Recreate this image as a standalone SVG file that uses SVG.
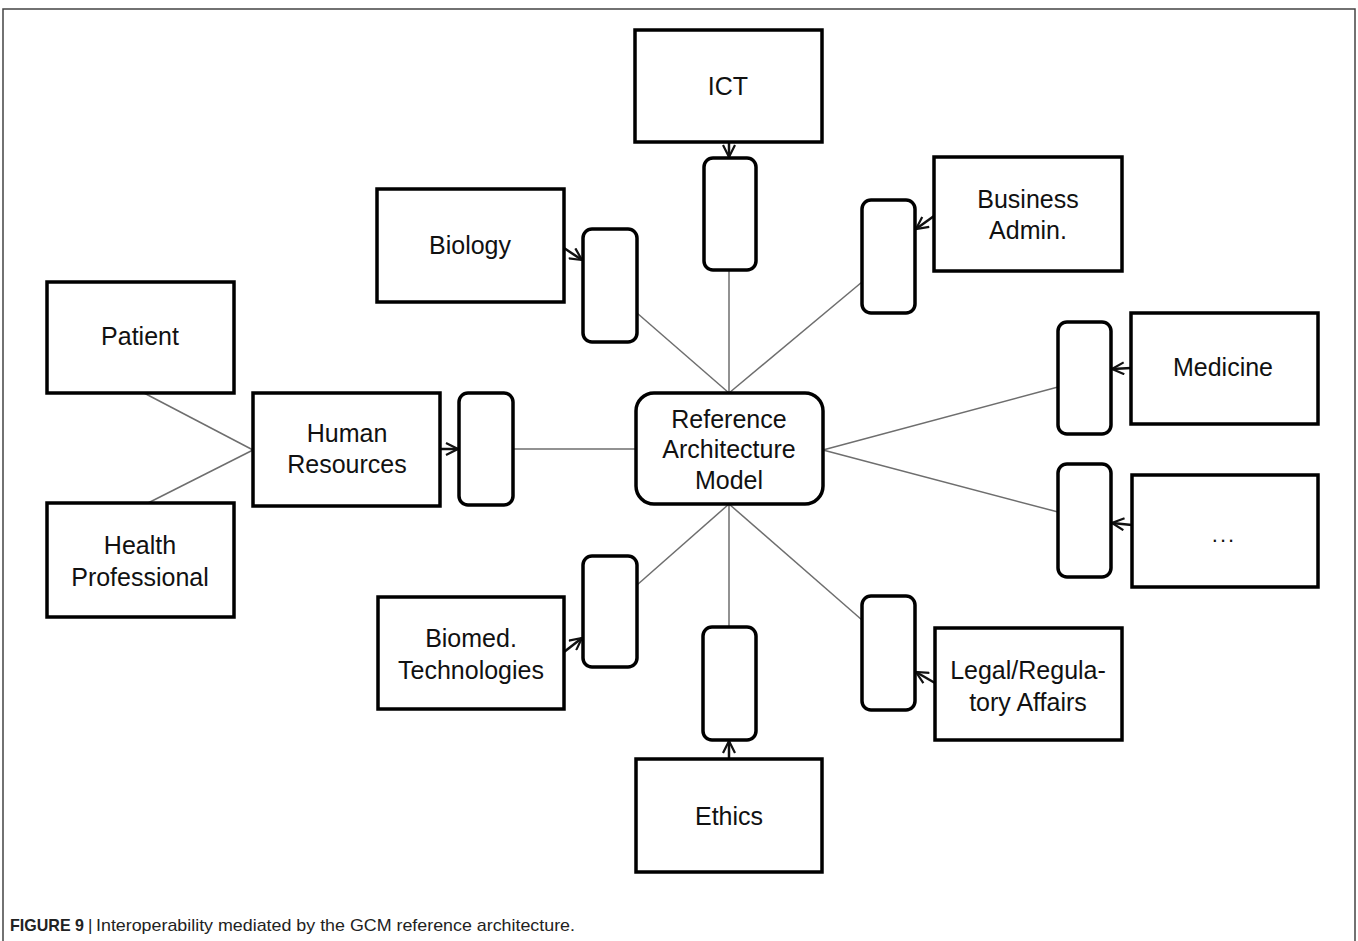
<svg xmlns="http://www.w3.org/2000/svg" width="1358" height="941" viewBox="0 0 1358 941">
<style>
.box{fill:#fff;stroke:#000;stroke-width:3.5}
.port{fill:#fff;stroke:#000;stroke-width:3.5}
.lbl{font-family:"Liberation Sans",Arial,sans-serif;font-size:25px;fill:#111;text-anchor:middle}
.link{stroke:#6e6e6e;stroke-width:1.5;fill:none}
.arr{stroke:#111;stroke-width:2.5;fill:none;marker-end:url(#ah)}
.cap{font-family:"Liberation Sans",Arial,sans-serif;font-size:17px;fill:#222}
</style>
<defs>
<marker id="ah" viewBox="0 0 14 14" refX="13" refY="7" markerWidth="14" markerHeight="14" markerUnits="userSpaceOnUse" orient="auto">
<path d="M1,1 L13,7 L1,13" fill="none" stroke="#111" stroke-width="2.2"/>
</marker>
</defs>
<rect width="1358" height="941" fill="#fff"/>
<path d="M3,941 V9 H1355 V941" fill="none" stroke="#444" stroke-width="1.5"/>

<g id="connectors">
<line class="link" x1="729" y1="271" x2="729" y2="393"/>
<line class="link" x1="637" y1="313" x2="729" y2="393"/>
<line class="link" x1="862" y1="282" x2="729" y2="393"/>
<line class="link" x1="1058" y1="387" x2="823" y2="450"/>
<line class="link" x1="1058" y1="512" x2="823" y2="450"/>
<line class="link" x1="513" y1="449" x2="635" y2="449"/>
<line class="link" x1="637" y1="585" x2="729" y2="504"/>
<line class="link" x1="729" y1="627" x2="729" y2="504"/>
<line class="link" x1="862" y1="620" x2="729" y2="504"/>
<line class="link" x1="144" y1="393" x2="253" y2="450"/>
<line class="link" x1="148" y1="503" x2="253" y2="450"/>
<line class="arr" x1="729" y1="143" x2="729" y2="157"/>
<line class="arr" x1="564" y1="248" x2="582" y2="260"/>
<line class="arr" x1="934" y1="216" x2="916" y2="229"/>
<line class="arr" x1="1131" y1="368" x2="1112" y2="369"/>
<line class="arr" x1="1132" y1="525" x2="1112" y2="523"/>
<line class="arr" x1="440" y1="449" x2="458" y2="449"/>
<line class="arr" x1="564" y1="652" x2="582" y2="638"/>
<line class="arr" x1="729" y1="758" x2="729" y2="741"/>
<line class="arr" x1="935" y1="683" x2="916" y2="672"/>
</g>

<g id="ict"><rect class="box" x="635" y="30" width="187" height="112"/><text class="lbl" x="728" y="95">ICT</text></g>
<g id="ict-port"><rect class="port" x="704" y="158" width="52" height="112" rx="9"/></g>

<g id="biology"><rect class="box" x="377" y="189" width="187" height="113"/><text class="lbl" x="470" y="254">Biology</text></g>
<g id="biology-port"><rect class="port" x="583" y="229" width="54" height="113" rx="9"/></g>

<g id="business"><rect class="box" x="934" y="157" width="188" height="114"/><text class="lbl" x="1028" y="208">Business</text><text class="lbl" x="1028" y="239">Admin.</text></g>
<g id="business-port"><rect class="port" x="862" y="200" width="53" height="113" rx="9"/></g>

<g id="medicine"><rect class="box" x="1131" y="313" width="187" height="111"/><text class="lbl" x="1223" y="376">Medicine</text></g>
<g id="medicine-port"><rect class="port" x="1058" y="322" width="53" height="112" rx="9"/></g>

<g id="more"><rect class="box" x="1132" y="475" width="186" height="112"/><text class="lbl" x="1224" y="542" style="font-size:22px;letter-spacing:2px">...</text></g>
<g id="more-port"><rect class="port" x="1058" y="464" width="53" height="113" rx="9"/></g>

<g id="human-resources"><rect class="box" x="253" y="393" width="187" height="113"/><text class="lbl" x="347" y="442">Human</text><text class="lbl" x="347" y="473">Resources</text></g>
<g id="hr-port"><rect class="port" x="459" y="393" width="54" height="112" rx="9"/></g>

<g id="reference-model"><rect class="box" x="636" y="393" width="187" height="111" rx="18"/><text class="lbl" x="729" y="428">Reference</text><text class="lbl" x="729" y="458">Architecture</text><text class="lbl" x="729" y="489">Model</text></g>

<g id="patient"><rect class="box" x="47" y="282" width="187" height="111"/><text class="lbl" x="140" y="345">Patient</text></g>
<g id="health-professional"><rect class="box" x="47" y="503" width="187" height="114"/><text class="lbl" x="140" y="554">Health</text><text class="lbl" x="140" y="586">Professional</text></g>

<g id="biomed"><rect class="box" x="378" y="597" width="186" height="112"/><text class="lbl" x="471" y="647">Biomed.</text><text class="lbl" x="471" y="679">Technologies</text></g>
<g id="biomed-port"><rect class="port" x="583" y="556" width="54" height="111" rx="9"/></g>

<g id="ethics"><rect class="box" x="636" y="759" width="186" height="113"/><text class="lbl" x="729" y="825">Ethics</text></g>
<g id="ethics-port"><rect class="port" x="703" y="627" width="53" height="113" rx="9"/></g>

<g id="legal"><rect class="box" x="935" y="628" width="187" height="112"/><text class="lbl" x="1028" y="679">Legal/Regula-</text><text class="lbl" x="1028" y="711">tory Affairs</text></g>
<g id="legal-port"><rect class="port" x="862" y="596" width="53" height="114" rx="9"/></g>

<text class="cap" y="931"><tspan x="10" font-weight="bold" textLength="74" lengthAdjust="spacingAndGlyphs">FIGURE 9</tspan><tspan x="88">|</tspan><tspan x="96" textLength="479" lengthAdjust="spacingAndGlyphs">Interoperability mediated by the GCM reference architecture.</tspan></text>
</svg>
